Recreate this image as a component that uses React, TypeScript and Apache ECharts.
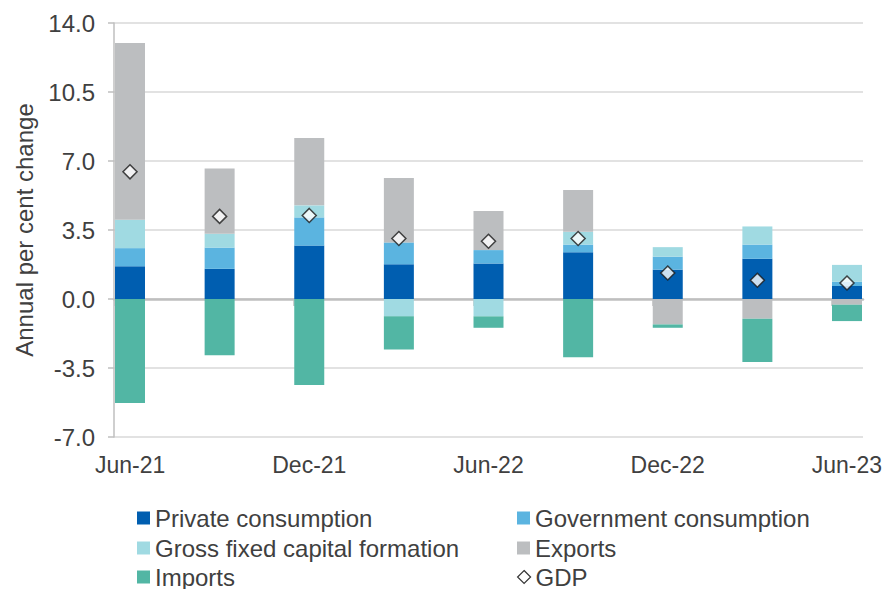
import React, { useEffect, useRef } from "react";
import * as echarts from "echarts";

const quarters = ["Jun-21", "Sep-21", "Dec-21", "Mar-22", "Jun-22", "Sep-22", "Dec-22", "Mar-23", "Jun-23"];
const privateConsumption = [1.66, 1.53, 2.71, 1.76, 1.8, 2.37, 1.49, 2.04, 0.66];
const governmentConsumption = [0.92, 1.08, 1.43, 1.11, 0.68, 0.39, 0.66, 0.72, 0.21];
const grossFixedCapital = [1.44, 0.7, 0.61, -0.88, -0.88, 0.65, 0.48, 0.92, 0.86];
const exportsData = [8.97, 3.31, 3.42, 3.27, 1.98, 2.12, -1.29, -1.0, -0.29];
const importsData = [-5.27, -2.85, -4.36, -1.68, -0.58, -2.95, -0.17, -2.2, -0.83];
const gdp = [6.45, 4.19, 4.24, 3.07, 2.93, 3.07, 1.32, 0.95, 0.81];
const labelIndices = [0, 2, 4, 6, 8];
const yTicks = { min: -7, max: 14, interval: 3.5 };

const FONT = "'Liberation Sans', Arial, sans-serif";
const TEXT = "#404040";
const AXIS = "#bfbfbf";

const barSeries = [
  { name: "Private consumption", data: privateConsumption, color: "#005EB0" },
  { name: "Government consumption", data: governmentConsumption, color: "#5BB4E0" },
  { name: "Gross fixed capital formation", data: grossFixedCapital, color: "#A0DAE2" },
  { name: "Exports", data: exportsData, color: "#BCBEC0" },
  { name: "Imports", data: importsData, color: "#52B6A4" },
];

const legendItems = [
  { name: "Private consumption", left: 137, top: 506 },
  { name: "Government consumption", left: 517, top: 506 },
  { name: "Gross fixed capital formation", left: 137, top: 536 },
  { name: "Exports", left: 517, top: 536 },
  { name: "Imports", left: 137, top: 565 },
  { name: "GDP", left: 517, top: 565 },
];

export default function App() {
  const ref = useRef<HTMLDivElement>(null);
  useEffect(() => {
    if (!ref.current) return;
    const chart = echarts.init(ref.current, null, { renderer: "svg" });
    const legendText = { fontFamily: FONT, fontSize: 24, color: TEXT, lineHeight: 24 };
    chart.setOption({
      animation: false,
      backgroundColor: "#ffffff",
      textStyle: { fontFamily: FONT },
      grid: [
        { left: 114, right: 23, top: 23, bottom: 152, containLabel: false },
        { left: 130, right: 39, top: 23, bottom: 152, containLabel: false },
      ],
      xAxis: [
        {
          type: "value",
          gridIndex: 0,
          min: -0.18,
          max: 8.18,
          position: "bottom",
          splitLine: { show: false },
          axisLine: { show: false, onZero: false },
          axisTick: { show: false },
          axisLabel: {
            customValues: labelIndices,
            formatter: (v: number) => quarters[Math.round(v)] ?? "",
            fontFamily: FONT,
            fontSize: 23,
            color: TEXT,
            margin: 16,
          },
        },
        {
          type: "value",
          gridIndex: 0,
          min: -0.18,
          max: 8.18,
          position: "bottom",
          splitLine: { show: false },
          axisLine: { show: true, onZero: true, lineStyle: { color: AXIS, width: 2.5 } },
          axisTick: {
            show: true,
            customValues: labelIndices.map((i) => i - 0.17),
            length: 7,
            lineStyle: { color: AXIS, width: 1.5 },
          },
          axisLabel: { show: false },
        },
        {
          type: "category",
          gridIndex: 1,
          data: quarters,
          boundaryGap: false,
          show: false,
        },
      ],
      yAxis: [
        {
          type: "value",
          gridIndex: 0,
          min: yTicks.min,
          max: yTicks.max,
          interval: yTicks.interval,
          name: "Annual per cent change",
          nameLocation: "middle",
          nameGap: 78,
          nameTextStyle: { fontFamily: FONT, fontSize: 24, color: TEXT },
          axisLine: { show: true, onZero: false, lineStyle: { color: AXIS, width: 1.5 } },
          axisTick: { show: true, length: 6, lineStyle: { color: AXIS, width: 1.5 } },
          axisLabel: {
            formatter: (v: number) => v.toFixed(1),
            fontFamily: FONT,
            fontSize: 24,
            color: TEXT,
            margin: 19,
          },
          splitLine: { show: true, lineStyle: { color: "#d9d9d9", width: 1.5 } },
        },
        {
          type: "value",
          gridIndex: 1,
          min: yTicks.min,
          max: yTicks.max,
          interval: yTicks.interval,
          show: false,
          splitLine: { show: false },
        },
      ],
      legend: legendItems.map((it) => ({
        left: it.left,
        top: it.top,
        padding: 0,
        itemWidth: 13,
        itemHeight: 13,
        textStyle: legendText,
        data: [
          it.name === "GDP"
            ? {
                name: "GDP",
                icon: "diamond",
                itemStyle: { color: "#ffffff", borderColor: "#000000", borderWidth: 1.2 },
              }
            : { name: it.name, icon: "rect" },
        ],
      })),
      series: [
        ...barSeries.map((s) => ({
          name: s.name,
          type: "bar",
          stack: "total",
          xAxisIndex: 2,
          yAxisIndex: 1,
          barWidth: 30,
          itemStyle: { color: s.color },
          data: s.data,
        })),
        {
          name: "GDP",
          type: "scatter",
          xAxisIndex: 2,
          yAxisIndex: 1,
          symbol: "diamond",
          symbolSize: 14,
          z: 5,
          itemStyle: { color: "#ffffff", borderColor: "#1a1a1a", borderWidth: 1.5 },
          data: gdp,
        },
      ],
    });
    return () => chart.dispose();
  }, []);
  return (
    <div
      ref={ref}
      style={{ position: "fixed", left: 0, top: 0, width: 886, height: 589, background: "#fff" }}
    />
  );
}
